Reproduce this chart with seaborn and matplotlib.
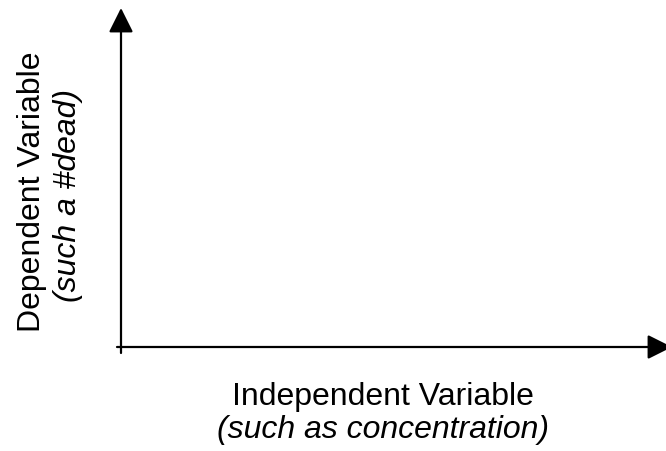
import seaborn as sns
import matplotlib.pyplot as plt

# axis label text (two lines each: name + italic example)
x_label = ["Independent Variable", "(such as concentration)"]
y_label = ["Dependent Variable", "(such a #dead)"]

sns.set_style("white")
plt.rcParams['font.family'] = ['Liberation Sans', 'DejaVu Sans']
plt.rcParams['text.color'] = 'black'

W, H = 666, 451
fig = plt.figure(figsize=(W / 100, H / 100), dpi=100)
# axes box: origin at (121, 347) px, top at arrow tip, right at image edge
ax = fig.add_axes([121 / W, (H - 347) / H, (672 - 121) / W, (347 - 8) / H])
ax.set_xlim(0, 1)
ax.set_ylim(0, 1)
ax.set_xticks([])
ax.set_yticks([])
sns.despine(ax=ax, left=True, bottom=True, top=True, right=True)

arrow = dict(arrowstyle="-|>,head_length=1.0,head_width=0.5", mutation_scale=15,
             lw=1.6, color="black", shrinkA=0, shrinkB=0)
ax.annotate("", xy=(0, 1), xytext=(0, -6 / 339), xycoords="axes fraction",
            textcoords="axes fraction", arrowprops=arrow, annotation_clip=False)
ax.annotate("", xy=(1, 0), xytext=(-4 / 551, 0), xycoords="axes fraction",
            textcoords="axes fraction", arrowprops=arrow, annotation_clip=False)

fs = 23
fig.text(383 / W, 1 - 397 / H, x_label[0], ha="center", va="center", fontsize=fs)
fig.text(383 / W, 1 - 430 / H, x_label[1], ha="center", va="center", fontsize=fs,
         style="italic")
fig.text(32 / W, 1 - 192 / H, y_label[0], ha="center", va="center", fontsize=fs,
         rotation=90)
fig.text(68 / W, 1 - 195 / H, y_label[1], ha="center", va="center", fontsize=fs,
         rotation=90, style="italic")

fig.savefig("out.png", dpi=100)
